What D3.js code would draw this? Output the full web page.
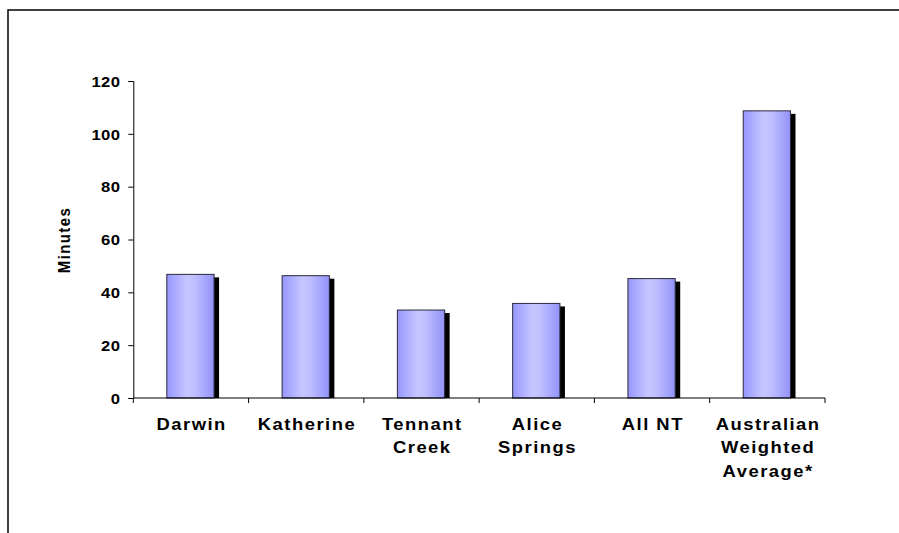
<!DOCTYPE html>
<html>
<head>
<meta charset="utf-8">
<script src="https://cdn.jsdelivr.net/npm/d3@7"></script>
<style>
  html, body { margin: 0; padding: 0; background: #fff; }
  svg { display: block; }
  text { font-family: Arial, "Liberation Sans", sans-serif; font-weight: bold; fill: #000; }
</style>
</head>
<body>
<svg id="chart" width="899" height="533"></svg>
<script>
// Average waiting time (minutes) by location
const categories = [
  ["Darwin"],
  ["Katherine"],
  ["Tennant", "Creek"],
  ["Alice", "Springs"],
  ["All NT"],
  ["Australian", "Weighted", "Average*"]
];
const minutes = [46.8, 46.3, 33.3, 35.8, 45.2, 108.7];
const yTicks = [0, 20, 40, 60, 80, 100, 120];
const yTitle = "Minutes";

const svg = d3.select("#chart");
const plotLeft = 133.3, plotRight = 825, plotTop = 81, plotBottom = 398;
const wide = 1.15; // horizontal stretch of lettering

// outer frame (runs off the right and bottom edges)
svg.append("path")
  .attr("d", "M8,540 L8,10 L905,10")
  .attr("fill", "none").attr("stroke", "#000").attr("stroke-width", 1.5);

const defs = svg.append("defs");
const grad = defs.append("linearGradient").attr("id", "barFill")
  .attr("x1", "0%").attr("x2", "100%").attr("y1", "0%").attr("y2", "0%");
[["0%", "#9696ff"], ["42%", "#c6c6ff"], ["58%", "#c0c0ff"], ["100%", "#9292fa"]]
  .forEach(([o, c]) => grad.append("stop").attr("offset", o).attr("stop-color", c));

const keys = categories.map(d => d.join(" "));
const x = d3.scaleBand().domain(keys).range([plotLeft, plotRight]).padding(0);
const y = d3.scaleLinear().domain([0, 120]).range([plotBottom, plotTop]);
const bw = x.bandwidth() * 0.41;

// y axis
const yAxis = svg.append("g").attr("transform", `translate(${plotLeft},0)`)
  .call(d3.axisLeft(y).tickValues(yTicks).tickSize(5).tickPadding(8));
yAxis.select(".domain").attr("stroke", "#000");
yAxis.selectAll(".tick line").attr("stroke", "#000");
yAxis.selectAll(".tick text")
  .style("font-size", "14.5px").style("letter-spacing", "0.3px")
  .attr("font-family", null).attr("fill", "#000")
  .attr("x", 0).attr("dy", "0.36em")
  .attr("transform", `translate(-13,0) scale(${wide},1)`);

svg.append("text")
  .attr("transform", `translate(70,240) scale(${wide},1) rotate(-90)`)
  .attr("text-anchor", "middle")
  .style("font-size", "15px").style("letter-spacing", "1.4px")
  .text(yTitle);

// bars with drop shadow
const g = svg.append("g");
keys.forEach((k, i) => {
  const cx = x(k) + x.bandwidth() / 2;
  const x0 = cx - bw / 2 - 0.5;
  const yv = y(minutes[i]);
  g.append("rect")
    .attr("x", x0 + 5).attr("y", yv + 3)
    .attr("width", bw).attr("height", plotBottom - yv - 3)
    .attr("fill", "#000");
  g.append("rect")
    .attr("x", x0).attr("y", yv)
    .attr("width", bw).attr("height", plotBottom - yv)
    .attr("fill", "url(#barFill)")
    .attr("stroke", "#2a2a3a").attr("stroke-width", 1);
});

// x axis with ticks between categories
const xa = svg.append("g");
xa.append("line").attr("x1", plotLeft).attr("x2", plotRight)
  .attr("y1", plotBottom).attr("y2", plotBottom).attr("stroke", "#000");
const bounds = keys.map(k => x(k)).concat([plotRight]);
xa.selectAll("line.t").data(bounds).enter().append("line")
  .attr("class", "t")
  .attr("x1", d => d).attr("x2", d => d)
  .attr("y1", plotBottom).attr("y2", plotBottom + 5).attr("stroke", "#000");

// category labels
categories.forEach((lines, i) => {
  const cx = x(keys[i]) + x.bandwidth() / 2;
  const t = svg.append("text")
    .attr("transform", `translate(${cx},0) scale(${wide},1)`)
    .attr("text-anchor", "middle")
    .style("font-size", "16px").style("letter-spacing", "1.3px");
  lines.forEach((ln, j) => {
    t.append("tspan").attr("x", 0.65).attr("y", 430 + j * 23.5).text(ln);
  });
});
</script>
</body>
</html>
